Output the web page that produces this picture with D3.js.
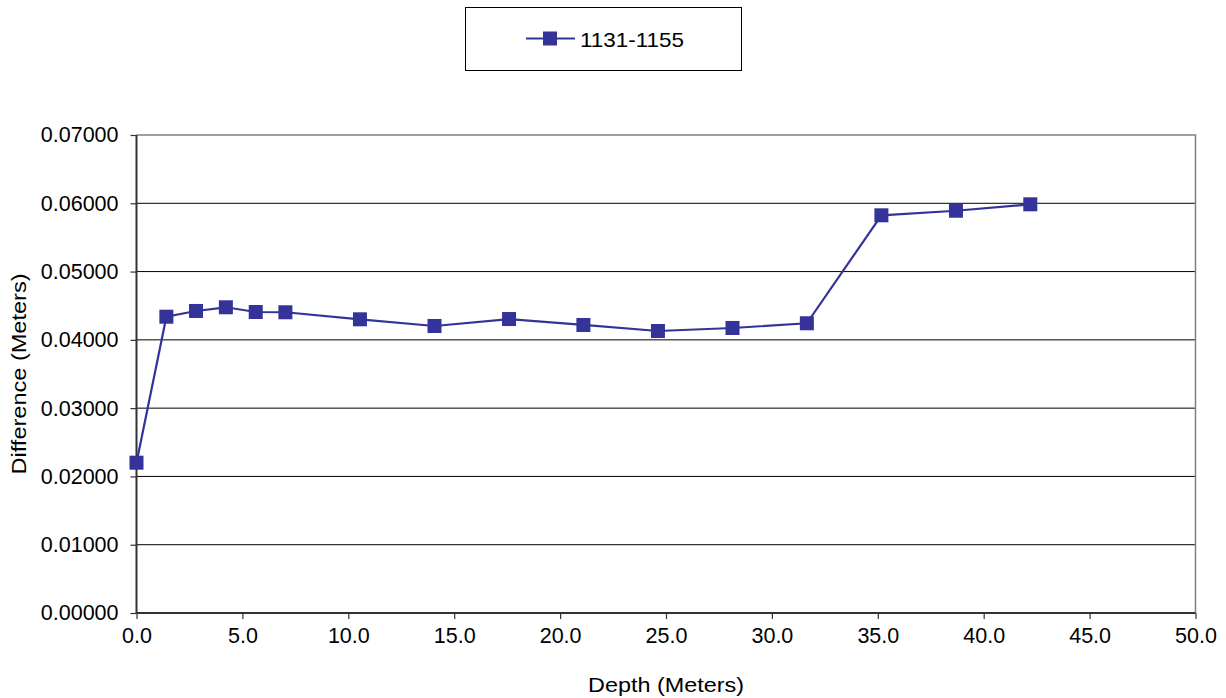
<!DOCTYPE html>
<html>
<head>
<meta charset="utf-8">
<script src="https://cdn.jsdelivr.net/npm/d3@7"></script>
<style>
  body { margin: 0; background: #fff; }
  svg { display: block; }
  text { font-family: "Liberation Sans", Arial, sans-serif; fill: #000; }
</style>
</head>
<body>
<div id="chart"></div>
<script>
// dados
const seriesName = "1131-1155";
const depth = [0, 1.41, 2.81, 4.22, 5.63, 7.03, 10.55, 14.07, 17.59, 21.1, 24.62, 28.14, 31.65, 35.17, 38.69, 42.2];
const difference = [0.02201, 0.04339, 0.04423, 0.04477, 0.04408, 0.04404, 0.04301, 0.04203, 0.04305, 0.04218, 0.04130, 0.04174, 0.04243, 0.05824, 0.05891, 0.05985];
const xTicks = [0, 5, 10, 15, 20, 25, 30, 35, 40, 45, 50];
const yTicks = [0, 0.01, 0.02, 0.03, 0.04, 0.05, 0.06, 0.07];

const width = 1226, height = 698;
const margin = { top: 135, right: 30.5, bottom: 85, left: 136.5 };
const color = "#333399";

const svg = d3.select("#chart").append("svg")
    .attr("width", width)
    .attr("height", height);

const x = d3.scaleLinear().domain([0, 50]).range([margin.left, width - margin.right]);
const y = d3.scaleLinear().domain([0, 0.07]).range([height - margin.bottom, margin.top]);

// linhas de grade
svg.append("g")
    .selectAll("line")
    .data(yTicks.filter(d => d > 0 && d < 0.07))
    .join("line")
    .attr("x1", x(0)).attr("x2", x(50))
    .attr("y1", d => y(d)).attr("y2", d => y(d))
    .attr("stroke", "#000").attr("stroke-width", 1);

// borda superior e direita
svg.append("path")
    .attr("d", `M${x(0)},${y(0.07)}H${x(50)}V${y(0)}`)
    .attr("fill", "none")
    .attr("stroke", "#808080")
    .attr("stroke-width", 1.5);

// eixo x
const xAxis = svg.append("g")
    .attr("transform", `translate(0,${y(0)})`)
    .call(d3.axisBottom(x).tickValues(xTicks).tickFormat(d3.format(".1f")).tickSize(6).tickPadding(9));

// eixo y
const yAxis = svg.append("g")
    .attr("transform", `translate(${x(0)},0)`)
    .call(d3.axisLeft(y).tickValues(yTicks).tickFormat(d3.format(".5f")).tickSize(6).tickPadding(12));

[xAxis, yAxis].forEach(g => {
    g.select(".domain").attr("stroke", "#333").attr("stroke-width", 2);
    g.selectAll(".tick line").attr("stroke", "#333").attr("stroke-width", 1.2);
    g.selectAll(".tick text").attr("font-size", 21.5).attr("font-family", "Liberation Sans, Arial, sans-serif").attr("fill", "#000");
});
xAxis.select(".domain").attr("d", `M${x(0)},0H${x(50)}`);
yAxis.select(".domain").attr("d", `M0,${y(0)}V${y(0.07)}`);

// títulos dos eixos
svg.append("text")
    .attr("x", (x(0) + x(50)) / 2)
    .attr("y", 692)
    .attr("text-anchor", "middle")
    .attr("font-size", 21)
    .attr("textLength", 156)
    .attr("lengthAdjust", "spacingAndGlyphs")
    .text("Depth (Meters)");

svg.append("text")
    .attr("transform", `translate(26,${(y(0) + y(0.07)) / 2}) rotate(-90)`)
    .attr("text-anchor", "middle")
    .attr("font-size", 21)
    .attr("textLength", 201)
    .attr("lengthAdjust", "spacingAndGlyphs")
    .text("Difference (Meters)");

// série
const data = depth.map((d, i) => ({ x: d, y: difference[i] }));

svg.append("path")
    .datum(data)
    .attr("fill", "none")
    .attr("stroke", color)
    .attr("stroke-width", 2.2)
    .attr("d", d3.line().x(d => x(d.x)).y(d => y(d.y)));

const ms = 14;
svg.append("g")
    .selectAll("rect")
    .data(data)
    .join("rect")
    .attr("x", d => x(d.x) - ms / 2)
    .attr("y", d => y(d.y) - ms / 2)
    .attr("width", ms).attr("height", ms)
    .attr("fill", color);

// legenda
const legend = svg.append("g");
legend.append("rect")
    .attr("x", 465.5).attr("y", 7.5)
    .attr("width", 276).attr("height", 63)
    .attr("fill", "#fff")
    .attr("stroke", "#000").attr("stroke-width", 1);
legend.append("line")
    .attr("x1", 526).attr("x2", 575)
    .attr("y1", 38.5).attr("y2", 38.5)
    .attr("stroke", color).attr("stroke-width", 2.2);
legend.append("rect")
    .attr("x", 550 - ms / 2).attr("y", 38.5 - ms / 2)
    .attr("width", ms).attr("height", ms)
    .attr("fill", color);
legend.append("text")
    .attr("x", 580).attr("y", 46.5)
    .attr("font-size", 21)
    .attr("textLength", 104)
    .attr("lengthAdjust", "spacingAndGlyphs")
    .text(seriesName);
</script>
</body>
</html>
